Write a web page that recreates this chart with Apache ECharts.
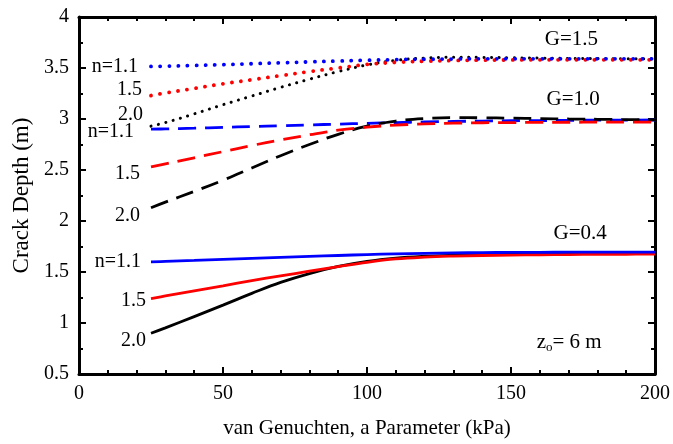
<!DOCTYPE html>
<html>
<head>
<meta charset="utf-8">
<script src="https://cdn.jsdelivr.net/npm/echarts@6/dist/echarts.min.js"></script>
<style>
  html, body { margin: 0; padding: 0; background: #fff; }
  #chart { width: 673px; height: 444px; }
</style>
</head>
<body>
<div id="chart"></div>
<script>
// van Genuchten a parameter (kPa)
var xVals = [25, 30, 40, 50, 60, 70, 80, 90, 100, 110, 120, 130, 140, 150, 160, 170, 180, 190, 200];

// G = 1.5 (dotted)
var g15n11 = [3.515, 3.518, 3.525, 3.533, 3.542, 3.551, 3.56, 3.568, 3.576, 3.582, 3.586, 3.588, 3.59, 3.59, 3.59, 3.59, 3.59, 3.59, 3.59];
var g15n15 = [3.23, 3.255, 3.30, 3.345, 3.385, 3.425, 3.465, 3.50, 3.535, 3.555, 3.567, 3.573, 3.577, 3.579, 3.58, 3.58, 3.58, 3.58, 3.58];
var g15n20 = [2.93, 2.965, 3.05, 3.14, 3.225, 3.31, 3.39, 3.465, 3.53, 3.575, 3.597, 3.605, 3.604, 3.6, 3.597, 3.594, 3.592, 3.59, 3.59];

// G = 1.0 (dashed)
var g10n11 = [2.90, 2.903, 2.91, 2.918, 2.926, 2.934, 2.942, 2.95, 2.958, 2.965, 2.971, 2.976, 2.98, 2.983, 2.985, 2.987, 2.988, 2.989, 2.99];
var g10n15 = [2.53, 2.56, 2.62, 2.68, 2.74, 2.795, 2.845, 2.89, 2.92, 2.94, 2.952, 2.959, 2.963, 2.965, 2.967, 2.968, 2.969, 2.97, 2.97];
var g10n20 = [2.13, 2.185, 2.29, 2.40, 2.52, 2.64, 2.75, 2.85, 2.93, 2.98, 3.005, 3.013, 3.012, 3.008, 3.004, 3.0, 2.997, 2.994, 2.992];

// G = 0.4 (solid)
var g04n11 = [1.60, 1.604, 1.613, 1.623, 1.633, 1.643, 1.653, 1.662, 1.671, 1.678, 1.683, 1.687, 1.69, 1.692, 1.693, 1.694, 1.695, 1.695, 1.695];
var g04n15 = [1.24, 1.265, 1.315, 1.365, 1.415, 1.462, 1.508, 1.552, 1.595, 1.628, 1.646, 1.656, 1.662, 1.666, 1.669, 1.671, 1.673, 1.674, 1.675];
var g04n20 = [0.90, 0.952, 1.063, 1.175, 1.29, 1.398, 1.485, 1.555, 1.605, 1.637, 1.655, 1.665, 1.671, 1.675, 1.678, 1.68, 1.682, 1.684, 1.685];

var nLabels = ['n=1.1', '1.5', '2.0'];
var gLabels = ['G=1.5', 'G=1.0', 'G=0.4'];
var xTicks = [0, 50, 100, 150, 200];
var yTicks = [0.5, 1, 1.5, 2, 2.5, 3, 3.5, 4];

var serif = '"Liberation Serif", "DejaVu Serif", serif';

function pairs(ys) {
  return xVals.map(function (x, i) { return [x, ys[i]]; });
}

function makeSeries(ys, color, dash, width, cap, text, dist, dy) {
  return {
    type: 'line',
    data: pairs(ys),
    smooth: 0.4,
    symbol: 'none',
    silent: true,
    lineStyle: { color: color, width: width, type: dash, cap: cap },
    z: 3,
    markPoint: {
      symbol: 'circle',
      symbolSize: 0,
      silent: true,
      label: {
        show: true,
        position: 'left',
        distance: dist,
        offset: [0, dy],
        formatter: text,
        color: '#000',
        fontFamily: serif,
        fontSize: 20
      },
      data: [{ coord: [xVals[0], ys[0]] }]
    }
  };
}

var dotsC = [0.1, 9];
var dotsK = [0.1, 7.5];
var dashes = [18, 9];

var series = [
  makeSeries(g15n20, '#000000', dotsK, 3.0, 'round', nLabels[2], 8, -11),
  makeSeries(g15n15, '#ff0000', dotsC, 3.8, 'round', nLabels[1], 9, -6),
  makeSeries(g15n11, '#0000ff', dotsC, 3.8, 'round', nLabels[0], 13, 0),
  makeSeries(g10n11, '#0000ff', dashes, 2.8, 'butt', nLabels[0], 17, 3),
  makeSeries(g10n20, '#000000', dashes, 2.8, 'butt', nLabels[2], 11, 8),
  makeSeries(g10n15, '#ff0000', dashes, 2.8, 'butt', nLabels[1], 11, 7),
  makeSeries(g04n20, '#000000', 'solid', 2.8, 'butt', nLabels[2], 5, 8),
  makeSeries(g04n15, '#ff0000', 'solid', 2.8, 'butt', nLabels[1], 5, 2),
  makeSeries(g04n11, '#0000ff', 'solid', 2.8, 'butt', nLabels[0], 10, 0),
  {
    type: 'scatter',
    data: [],
    silent: true,
    markPoint: {
      symbol: 'circle',
      symbolSize: 0,
      silent: true,
      label: {
        show: true,
        position: 'inside',
        color: '#000',
        fontFamily: serif,
        fontSize: 21,
        rich: {
          a: { fontFamily: serif, fontSize: 21, color: '#000' },
          b: { fontFamily: serif, fontSize: 13, color: '#000', padding: [11, 0, 0, 0] }
        }
      },
      data: [
        { coord: [171, 3.776], label: { formatter: gLabels[0] } },
        { coord: [171.6, 3.193], label: { formatter: gLabels[1] } },
        { coord: [174, 1.88], label: { formatter: gLabels[2] } },
        { coord: [170.2, 0.81], label: { formatter: '{a|z}{b|o}{a|= 6 m}' } }
      ]
    }
  }
];

var chart = echarts.init(document.getElementById('chart'), null, { renderer: 'canvas' });

var axisCommon = {
  axisLine: { show: true, onZero: false, lineStyle: { color: '#000', width: 3 } },
  axisTick: { show: true, inside: true, length: 7, lineStyle: { color: '#000', width: 2 } },
  minorTick: { show: true, length: 4, lineStyle: { color: '#000', width: 2 } },
  splitLine: { show: false }
};

chart.setOption({
  animation: false,
  backgroundColor: '#fff',
  grid: { left: 79, right: 16, top: 17, bottom: 67, containLabel: false },
  xAxis: [
    Object.assign({}, axisCommon, {
      type: 'value', min: xTicks[0], max: xTicks[xTicks.length - 1], interval: 50,
      position: 'bottom',
      minorTick: Object.assign({}, axisCommon.minorTick, { splitNumber: 5 }),
      axisLabel: { color: '#000', fontFamily: serif, fontSize: 20, margin: 10 },
      name: 'van Genuchten, a Parameter (kPa)',
      nameLocation: 'middle', nameGap: 44,
      nameTextStyle: { color: '#000', fontFamily: serif, fontSize: 21 }
    }),
    Object.assign({}, axisCommon, {
      type: 'value', min: xTicks[0], max: xTicks[xTicks.length - 1], interval: 50,
      position: 'top',
      minorTick: Object.assign({}, axisCommon.minorTick, { splitNumber: 5 }),
      axisLabel: { show: false }
    })
  ],
  yAxis: [
    Object.assign({}, axisCommon, {
      type: 'value', min: yTicks[0], max: yTicks[yTicks.length - 1], interval: 0.5,
      position: 'left',
      minorTick: Object.assign({}, axisCommon.minorTick, { splitNumber: 2 }),
      axisLabel: { color: '#000', fontFamily: serif, fontSize: 20, margin: 10 },
      name: 'Crack Depth (m)',
      nameLocation: 'middle', nameGap: 46,
      nameTextStyle: { color: '#000', fontFamily: serif, fontSize: 23 }
    }),
    Object.assign({}, axisCommon, {
      type: 'value', min: yTicks[0], max: yTicks[yTicks.length - 1], interval: 0.5,
      position: 'right',
      minorTick: Object.assign({}, axisCommon.minorTick, { splitNumber: 2 }),
      axisLabel: { show: false }
    })
  ],
  series: series
});
</script>
</body>
</html>
